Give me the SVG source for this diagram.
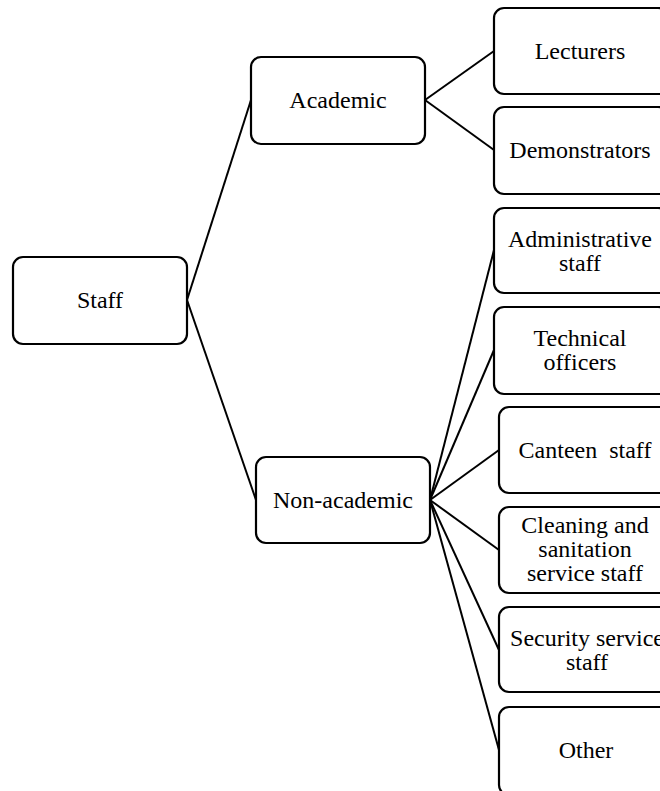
<svg xmlns="http://www.w3.org/2000/svg" width="660" height="791" viewBox="0 0 660 791">
<style>
.box{fill:#fff;stroke:#000;stroke-width:2.2}
.t{font-family:'Liberation Serif','Times New Roman',Tinos,'DejaVu Serif',serif;font-size:24px;fill:#000;text-anchor:middle}
.c{stroke:#000;stroke-width:2;fill:none}
</style>
<rect width="660" height="791" fill="#fff"/>
<g id="connectors">
<line class="c" x1="187" y1="300" x2="251" y2="100"/>
<line class="c" x1="187" y1="300" x2="256" y2="500"/>
<line class="c" x1="425" y1="100" x2="494" y2="51"/>
<line class="c" x1="425" y1="100" x2="494" y2="150"/>
<line class="c" x1="430" y1="500" x2="494" y2="250"/>
<line class="c" x1="430" y1="500" x2="494" y2="350"/>
<line class="c" x1="430" y1="500" x2="499" y2="450"/>
<line class="c" x1="430" y1="500" x2="499" y2="550"/>
<line class="c" x1="430" y1="500" x2="499" y2="650"/>
<line class="c" x1="430" y1="500" x2="499" y2="750"/>
</g>
<g id="staff"><rect class="box" x="13" y="257" width="174" height="87" rx="10"/><text class="t" x="100" y="308">Staff</text></g>
<g id="academic"><rect class="box" x="251" y="57" width="174" height="87" rx="10"/><text class="t" x="338" y="108">Academic</text></g>
<g id="nonacademic"><rect class="box" x="256" y="457" width="174" height="86" rx="10"/><text class="t" x="343" y="508">Non-academic</text></g>
<g id="lecturers"><rect class="box" x="494" y="8" width="174" height="86" rx="10"/><text class="t" x="580" y="59">Lecturers</text></g>
<g id="demonstrators"><rect class="box" x="494" y="107" width="174" height="87" rx="10"/><text class="t" x="580" y="158">Demonstrators</text></g>
<g id="administrative"><rect class="box" x="494" y="208" width="174" height="85" rx="10"/><text class="t" x="580" y="247">Administrative</text><text class="t" x="580" y="271">staff</text></g>
<g id="technical"><rect class="box" x="494" y="307" width="174" height="87" rx="10"/><text class="t" x="580" y="346">Technical</text><text class="t" x="580" y="370">officers</text></g>
<g id="canteen"><rect class="box" x="499" y="407" width="174" height="86" rx="10"/><text class="t" x="585" y="458" xml:space="preserve">Canteen  staff</text></g>
<g id="cleaning"><rect class="box" x="499" y="507" width="174" height="86" rx="10"/><text class="t" x="585" y="533">Cleaning and</text><text class="t" x="585" y="557">sanitation</text><text class="t" x="585" y="581">service staff</text></g>
<g id="security"><rect class="box" x="499" y="607" width="174" height="85" rx="10"/><text class="t" x="587" y="646">Security service</text><text class="t" x="587" y="670">staff</text></g>
<g id="other"><rect class="box" x="499" y="707" width="174" height="88" rx="10"/><text class="t" x="586" y="758">Other</text></g>
</svg>
